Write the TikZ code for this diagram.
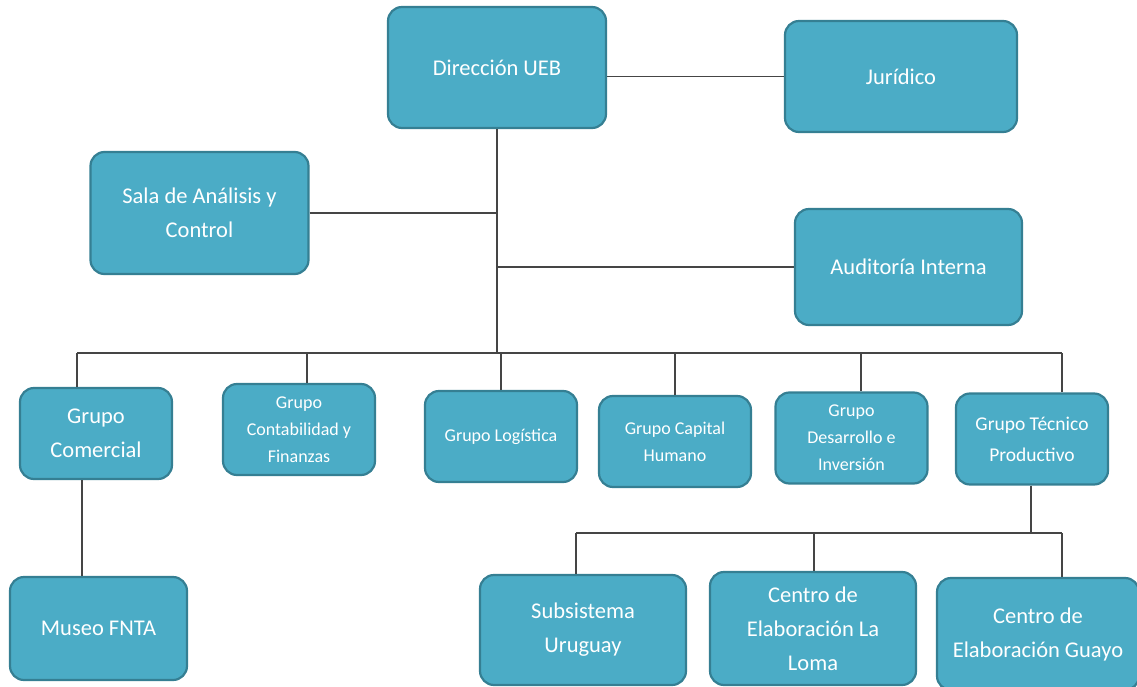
\documentclass[tikz,border=0pt]{standalone}
\usepackage{fontspec}
\setmainfont{Carlito}
\usetikzlibrary{positioning,calc}

\definecolor{boxfill}{HTML}{4BACC6}
\definecolor{boxline}{HTML}{357F93}
\definecolor{wirecol}{HTML}{454545}

\tikzset{
  unit/.style={draw=boxline, fill=boxfill, line width=2.2pt, rounded corners=14pt,
    text=white, align=center, inner sep=2pt},
  bigunit/.style={unit, font=\fontsize{22.5}{34}\selectfont},
  smallunit/.style={unit, font=\fontsize{18}{27}\selectfont, minimum width=152, minimum height=91},
  wire/.style={draw=wirecol, line width=1.4pt}
}

\begin{document}
\begin{tikzpicture}[x=1pt,y=-1pt]
      \useasboundingbox (0,0) rectangle (1137,687);

      % top of the chart
      \node[bigunit, minimum width=218, minimum height=121] (dir) at (497,67.5) {Dirección UEB} ;
      \node[bigunit, minimum width=232, minimum height=111] (jur) at (901,76.5) {Jurídico} ;
      \node[bigunit, minimum width=218, minimum height=122] (sala) at (199.5,213) {Sala de Análisis y\\Control} ;
      \node[bigunit, minimum width=227, minimum height=116] (aud) at (908.5,267) {Auditoría Interna} ;

      % groups
      \node[bigunit, minimum width=152, minimum height=91] (com) at (96,433.5) {Grupo\\Comercial} ;
      \node[smallunit] (cont) at (299,429.5) {Grupo\\Contabilidad y\\Finanzas} ;
      \node[smallunit] (log) at (501,436.5) {Grupo Logística} ;
      \node[smallunit] (cap) at (675,441.5) {Grupo Capital\\Humano} ;
      \node[smallunit] (des) at (851.5,438) {Grupo\\Desarrollo e\\Inversión} ;
      \node[smallunit, font=\fontsize{19.5}{31}\selectfont] (tec) at (1032,439) {Grupo Técnico\\Productivo} ;

      % bottom row
      \node[bigunit, minimum width=177, minimum height=103] (mus) at (98.5,628.5) {Museo FNTA} ;
      \node[bigunit, minimum width=206, minimum height=110] (sub) at (583,630) {Subsistema\\Uruguay} ;
      \node[bigunit, minimum width=206, minimum height=113] (lom) at (813,628.5) {Centro de\\Elaboración La\\Loma} ;
      \node[bigunit, minimum width=202, minimum height=112] (guy) at (1038,634) {Centro de\\Elaboración Guayo} ;

      \coordinate (b1) at (77,353) ;
      \coordinate (b2) at (307,353) ;
      \coordinate (b3) at (501,353) ;
      \coordinate (b4) at (675,353) ;
      \coordinate (b5) at (861,353) ;
      \coordinate (b6) at (1062,353) ;
      \coordinate (c1) at (576,533) ;
      \coordinate (c2) at (814,533) ;
      \coordinate (c3) at (1062,533) ;

      \path[wire]
      (dir.east |- jur.west) edge (jur.west)
      (dir.south) edge (dir.south |- b1)
      (sala.east) edge (sala.east -| dir.south)
      (aud.west -| dir.south) edge (aud.west)
      (b1) edge (b6) ;

      \path[wire]
      (b1) edge (b1 |- com.north)
      (b2) edge (b2 |- cont.north)
      (b3) edge (b3 |- log.north)
      (b4) edge (b4 |- cap.north)
      (b5) edge (b5 |- des.north)
      (b6) edge (b6 |- tec.north) ;

      \path[wire]
      ([xshift=-14pt]com.south) edge ([xshift=-14pt]com.south |- mus.north)
      ([xshift=-1pt]tec.south) edge ([xshift=-1pt]tec.south |- c1)
      (c1) edge (c3)
      (c1) edge (c1 |- sub.north)
      (c2) edge (c2 |- lom.north)
      (c3) edge (c3 |- guy.north) ;

    \end{tikzpicture}
\end{document}
